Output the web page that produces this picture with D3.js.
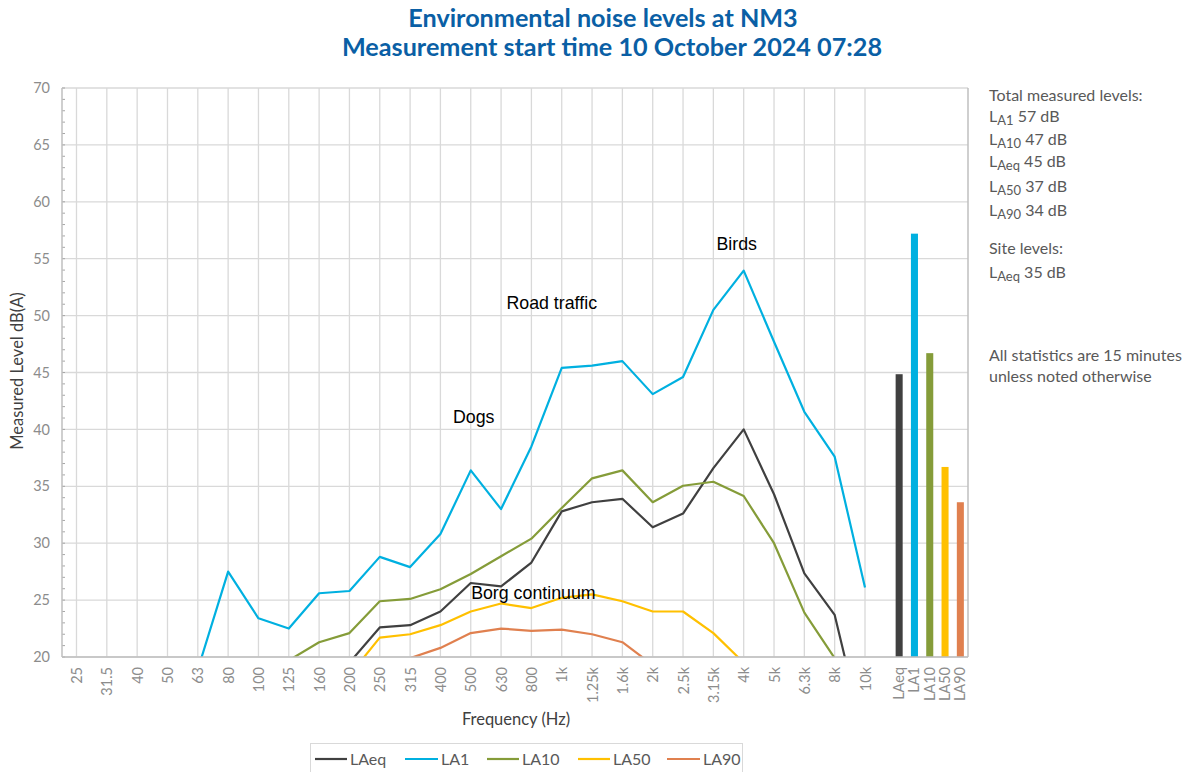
<!DOCTYPE html>
<html>
<head>
<meta charset="utf-8">
<script src="https://cdn.jsdelivr.net/npm/d3@7"></script>
<style>
  body { margin: 0; background: #fff; }
  svg { font-family: Lato, "Open Sans", sans-serif; }
</style>
</head>
<body>
<div id="chart"></div>
<script>
var freqs = ["25","31.5","40","50","63","80","100","125","160","200","250","315","400","500","630","800","1k","1.25k","1.6k","2k","2.5k","3.15k","4k","5k","6.3k","8k","10k"];

var laeq = [null,null,null,null,null,null,null,null,null,19.5,22.6,22.8,24.0,26.5,26.2,28.3,32.8,33.6,33.9,31.4,32.6,36.6,40.0,34.3,27.35,23.7,12.6];
var la1  = [null,null,null,null,18.9,27.5,23.4,22.5,25.6,25.8,28.8,27.9,30.8,36.4,33.0,38.5,45.4,45.6,46.0,43.1,44.6,50.5,53.95,47.7,41.55,37.6,26.1];
var la10 = [null,null,null,null,null,null,null,19.7,21.3,22.1,24.9,25.1,25.95,27.3,28.85,30.4,33.1,35.7,36.4,33.6,35.05,35.4,34.15,30.0,23.9,19.9,null];
var la50 = [null,null,null,null,null,null,null,null,null,18.4,21.7,22.0,22.8,24.0,24.7,24.3,25.2,25.5,24.9,24.0,24.0,22.1,19.5,null,null,null,null];
var la90 = [null,null,null,null,null,null,null,null,null,null,null,19.9,20.8,22.1,22.5,22.3,22.4,22.0,21.3,19.3,null,null,null,null,null,null,null];

var seriesNames = ["LAeq","LA1","LA10","LA50","LA90"];
var seriesColors = ["#404040","#00b0e0","#859c39","#ffc000","#e0804f"];
var totalBars = [44.85,57.2,46.7,36.7,33.6];

var yTicks = [20,25,30,35,40,45,50,55,60,65,70];

var totalSubs = ["A1","A10","Aeq","A50","A90"];
var totalDb = [57,47,45,37,34];
var siteSubs = ["Aeq"];
var siteDb = [35];

var notes = [
  {text:"Dogs", freq:"500", v:40.55, dx:3},
  {text:"Road traffic", freq:"1k", v:50.6, dx:-10},
  {text:"Birds", freq:"4k", v:55.8, dx:-7},
  {text:"Borg continuum", freq:"800", v:25.1, dx:2}
];

(function(){
var W = 1192, H = 772;
var pl = 62, pr = 968, pt = 88, pb = 657;

var svg = d3.select("#chart").append("svg").attr("width", W).attr("height", H);

var x = d3.scalePoint().domain(freqs).range([76.5, 865]);
var xb = d3.scaleBand().domain(seriesNames).range([891.5, 968]).paddingInner(0.54).paddingOuter(0.27);
var y = d3.scaleLinear().domain([20, 70]).range([pb, pt]);

//==========grid==========
var grid = svg.append("g");
grid.selectAll("line.h").data(yTicks).enter().append("line")
  .attr("x1", pl).attr("x2", pr)
  .attr("y1", function(d){return y(d);}).attr("y2", function(d){return y(d);})
  .attr("stroke", "#d9d9d9").attr("stroke-width", 1.3);
grid.selectAll("line.v").data(freqs).enter().append("line")
  .attr("x1", function(d){return x(d);}).attr("x2", function(d){return x(d);})
  .attr("y1", pt).attr("y2", pb)
  .attr("stroke", "#d9d9d9").attr("stroke-width", 1.3);

//==========axes==========
var yAxis = d3.axisLeft(y).tickValues(yTicks).tickSize(0).tickPadding(12);
var gy = svg.append("g").attr("transform", "translate(" + pl + ",0)").call(yAxis);
gy.select(".domain").remove();
gy.selectAll("text").attr("fill", "#8c8c8c").style("font-size", "14.5px").style("font-family", "Lato");

// minor ticks
svg.append("g").selectAll("line").data(d3.range(20, 71, 1)).enter().append("line")
  .attr("x1", pl).attr("x2", pl + 3)
  .attr("y1", function(d){return y(d);}).attr("y2", function(d){return y(d);})
  .attr("stroke", "#a6a6a6").attr("stroke-width", 1);

svg.append("line").attr("x1", pl).attr("x2", pl).attr("y1", pt).attr("y2", pb)
  .attr("stroke", "#bfbfbf").attr("stroke-width", 1.5);
svg.append("line").attr("x1", pr).attr("x2", pr).attr("y1", pt).attr("y2", pb)
  .attr("stroke", "#bfbfbf").attr("stroke-width", 1.5);

var xAxis = d3.axisBottom(x).tickSize(0).tickPadding(0);
var gx = svg.append("g").attr("transform", "translate(0," + pb + ")").call(xAxis);
gx.select(".domain").remove();
gx.selectAll("text")
  .attr("fill", "#8c8c8c").style("font-size", "14.5px").style("font-family", "Lato")
  .attr("text-anchor", "end").attr("dy", null)
  .attr("transform", "translate(5,10) rotate(-90)").attr("x", 0).attr("y", 0);

var xbAxis = d3.axisBottom(xb).tickSize(0).tickPadding(0);
var gxb = svg.append("g").attr("transform", "translate(0," + pb + ")").call(xbAxis);
gxb.select(".domain").remove();
gxb.selectAll("text")
  .attr("fill", "#8c8c8c").style("font-size", "14.5px").style("font-family", "Lato")
  .attr("text-anchor", "end").attr("dy", null)
  .attr("transform", "translate(5,10) rotate(-90)").attr("x", 0).attr("y", 0);

//==========lines==========
svg.append("clipPath").attr("id", "clip").append("rect")
  .attr("x", pl).attr("y", pt).attr("width", pr - pl).attr("height", pb - pt);

var allSeries = [laeq, la1, la10, la50, la90];
var line = d3.line()
  .defined(function(d){return d != null;})
  .x(function(d, i){return x(freqs[i]);})
  .y(function(d){return y(d);});

svg.append("g").attr("clip-path", "url(#clip)")
  .selectAll("path").data(allSeries).enter().append("path")
  .attr("d", function(d){return line(d);})
  .attr("fill", "none")
  .attr("stroke", function(d, i){return seriesColors[i];})
  .attr("stroke-width", 2.2)
  .attr("stroke-linejoin", "round");

//==========bars==========
svg.append("g").selectAll("rect").data(totalBars).enter().append("rect")
  .attr("x", function(d, i){return xb(seriesNames[i]);})
  .attr("width", xb.bandwidth())
  .attr("y", function(d){return y(d);})
  .attr("height", function(d){return y(20) - y(d);})
  .attr("fill", function(d, i){return seriesColors[i];});

svg.append("line").attr("x1", pl).attr("x2", pr).attr("y1", pb).attr("y2", pb)
  .attr("stroke", "#bfbfbf").attr("stroke-width", 1.5);

//==========annotations==========
svg.append("g").selectAll("text").data(notes).enter().append("text")
  .attr("x", function(d){return x(d.freq) + d.dx;})
  .attr("y", function(d){return y(d.v);})
  .attr("text-anchor", "middle")
  .style("font-family", "'Liberation Sans', Arial, sans-serif")
  .style("font-size", "17.8px")
  .attr("fill", "#000")
  .text(function(d){return d.text;});

//==========titles==========
var title = svg.append("text").attr("text-anchor", "middle")
  .attr("fill", "#0a5fa5").style("font-size", "25.2px").style("font-weight", "bold");
title.append("tspan").attr("x", 603).attr("y", 27).text("Environmental noise levels at NM3");
title.append("tspan").attr("x", 612).attr("y", 56).text("Measurement start time 10 October 2024 07:28");

svg.append("text").attr("transform", "translate(23,371) rotate(-90)")
  .attr("text-anchor", "middle").attr("fill", "#404040").style("font-size", "16.5px")
  .text("Measured Level dB(A)");

svg.append("text").attr("x", 516).attr("y", 725).attr("text-anchor", "middle")
  .attr("fill", "#404040").style("font-size", "16.5px").text("Frequency (Hz)");

//==========side notes==========
var side = svg.append("g").attr("fill", "#595959").style("font-size", "16px");
side.append("text").attr("x", 989).attr("y", 101).text("Total measured levels:");
var totalY = [122, 145, 167, 192, 216];
function levelText(g, yy, sub, val) {
  var t = g.append("text").attr("x", 989).attr("y", yy);
  t.append("tspan").text("L");
  t.append("tspan").attr("dy", 3).style("font-size", "13px").text(sub);
  t.append("tspan").attr("dy", -3).text(" " + val + " dB");
}
totalSubs.forEach(function(s, i){ levelText(side, totalY[i], s, totalDb[i]); });
side.append("text").attr("x", 989).attr("y", 254).text("Site levels:");
siteSubs.forEach(function(s, i){ levelText(side, 278, s, siteDb[i]); });
side.append("text").attr("x", 989).attr("y", 361).text("All statistics are 15 minutes");
side.append("text").attr("x", 989).attr("y", 382).text("unless noted otherwise");

//==========legend==========
var lg = svg.append("g");
lg.append("rect").attr("x", 310.5).attr("y", 743.5).attr("width", 432).attr("height", 34)
  .attr("fill", "#fff").attr("stroke", "#d9d9d9");
var legX = [315, 405, 487, 578, 667];
var legW = [32, 33, 32, 32, 33];
var items = lg.selectAll("g").data(seriesNames).enter().append("g");
items.append("line")
  .attr("x1", function(d, i){return legX[i];})
  .attr("x2", function(d, i){return legX[i] + legW[i];})
  .attr("y1", 759).attr("y2", 759)
  .attr("stroke", function(d, i){return seriesColors[i];}).attr("stroke-width", 2.2);
items.append("text")
  .attr("x", function(d, i){return legX[i] + legW[i] + 3;})
  .attr("y", 764.5)
  .attr("fill", "#595959").style("font-size", "16px")
  .text(function(d){return d;});
})();
</script>
</body>
</html>
